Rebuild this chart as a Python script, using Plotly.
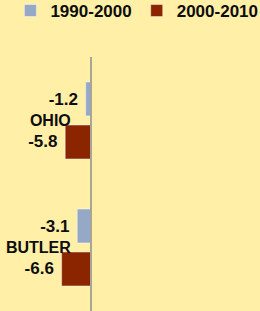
import plotly.graph_objects as go

categories = ["OHIO", "BUTLER"]
series_names = ["1990-2000", "2000-2010"]
values_1990_2000 = [-1.2, -3.1]
values_2000_2010 = [-5.8, -6.6]

colors = ["#95A9C6", "#8B2500"]
bg = "#FFEFA7"
txt = "#0D0D0D"
font_family = "Liberation Sans"
fnt_num = dict(family=font_family, size=17, color=txt, weight=700)
fnt_cat = dict(family=font_family, size=16, color=txt, weight=700)

fig = go.Figure()
for name, vals, col in zip(series_names, [values_1990_2000, values_2000_2010], colors):
    fig.add_trace(go.Bar(
        y=categories, x=vals, name=name, orientation="h",
        marker=dict(color=col, line=dict(color="rgba(255,255,255,0.45)", width=1)),
        texttemplate="%{x:.1f}\u00a0", textposition="outside",
        textfont=fnt_num, cliponaxis=False,
    ))

fig.update_layout(
    width=260, height=311,
    margin=dict(l=0, r=0, t=57, b=0, autoexpand=False),
    paper_bgcolor=bg, plot_bgcolor=bg,
    barmode="group", bargap=0.323, bargroupgap=0.21,
    font=fnt_num,
    showlegend=True,
    legend=dict(orientation="h", x=0.04, xanchor="left", yref="paper", y=1.252,
                yanchor="top", font=fnt_num, bgcolor="rgba(0,0,0,0)", traceorder="normal"),
    xaxis=dict(range=[-20.45, 37.98], showticklabels=False, showgrid=False,
               zeroline=False, showline=False, fixedrange=True),
    yaxis=dict(type="category", range=[1.5, -0.5], anchor="free", position=0.35,
               side="left", showline=True, linecolor="#A8A49A", linewidth=2,
               showgrid=False, ticks="", ticklabelstandoff=16, tickfont=fnt_cat,
               zeroline=False, fixedrange=True),
)

fig.write_html("out.html", config={"displayModeBar": False},
               post_script="document.body.style.margin='0';document.body.style.overflow='hidden';")
